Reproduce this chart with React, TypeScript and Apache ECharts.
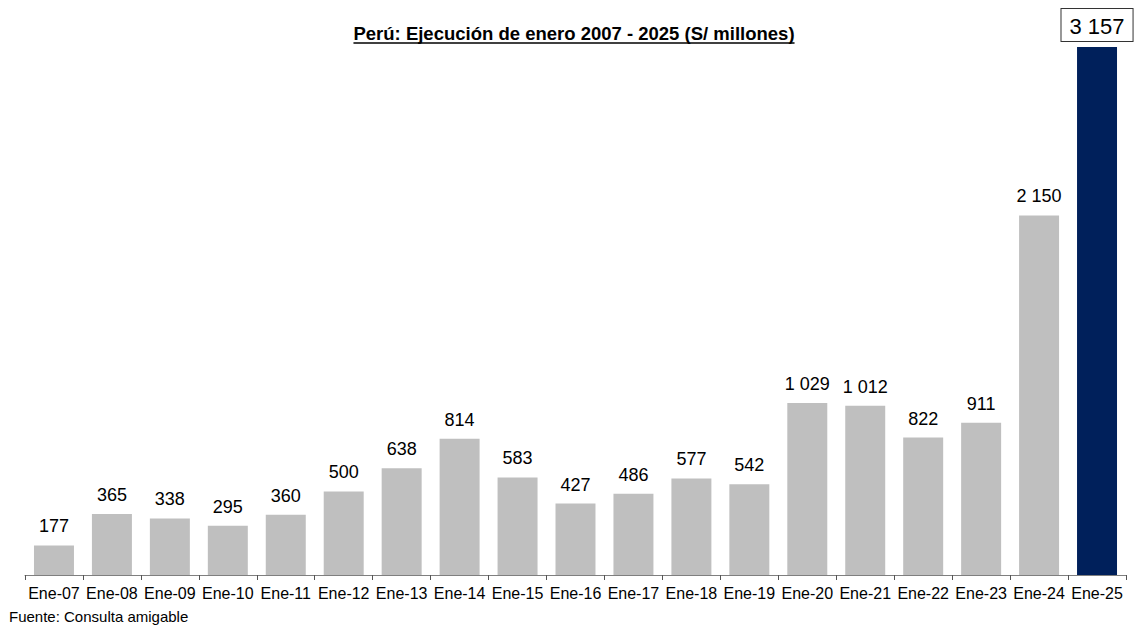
import React, { useEffect, useRef } from "react";
import * as echarts from "echarts";

const categories = ["Ene-07","Ene-08","Ene-09","Ene-10","Ene-11","Ene-12","Ene-13","Ene-14","Ene-15","Ene-16","Ene-17","Ene-18","Ene-19","Ene-20","Ene-21","Ene-22","Ene-23","Ene-24","Ene-25"];
const values = [177,365,338,295,360,500,638,814,583,427,486,577,542,1029,1012,822,911,2150,3157];
const highlightCategory = "Ene-25";
const titleText = "Perú: Ejecución de enero 2007 - 2025 (S/ millones)";
const sourceText = "Fuente: Consulta amigable";

const FONT = "'Liberation Sans', Arial, sans-serif";
const fmt = (v: number) => String(v).replace(/\B(?=(\d{3})+(?!\d))/g, " ");

function measure(text: string, font: string) {
  const c = document.createElement("canvas").getContext("2d");
  if (!c) return text.length * 9.5;
  c.font = font;
  return c.measureText(text).width;
}

export default function App() {
  const ref = useRef<HTMLDivElement>(null);
  useEffect(() => {
    document.body.style.margin = "0";
    if (!ref.current) return;
    const chart = echarts.init(ref.current, null, { renderer: "svg" });
    const titleFont = `bold 18.5px ${FONT}`;
    const titleW = measure(titleText, titleFont);
    const titleCx = 574;
    const data = values.map((v, i) => {
      const hl = categories[i] === highlightCategory;
      return {
        value: v,
        itemStyle: { color: hl ? "#00205B" : "#BFBFBF" },
        label: hl
          ? {
              show: true,
              position: "top",
              distance: 6,
              fontSize: 22,
              color: "#000",
              fontFamily: FONT,
              borderColor: "#333",
              borderWidth: 1,
              backgroundColor: "#fff",
              padding: [6, 8, 4, 8],
              formatter: (p: any) => fmt(p.value),
            }
          : undefined,
      };
    });
    chart.setOption({
      animation: false,
      grid: { left: 25, right: 9, top: 47, bottom: 51 },
      xAxis: {
        type: "category",
        data: categories,
        axisLine: { lineStyle: { color: "#7f7f7f", width: 1 } },
        axisTick: { show: true, length: 5, lineStyle: { color: "#555" } },
        axisLabel: { color: "#000", fontSize: 16, fontFamily: FONT, margin: 10, interval: 0 },
      },
      yAxis: {
        type: "value",
        min: 0,
        max: 3157,
        show: false,
        splitLine: { show: false },
      },
      series: [
        {
          type: "bar",
          data,
          barCategoryGap: "31%",
          label: {
            show: true,
            position: "top",
            distance: 10,
            fontSize: 18,
            color: "#000",
            fontFamily: FONT,
            formatter: (p: any) => fmt(p.value),
          },
        },
      ],
      graphic: [
        {
          type: "text",
          left: titleCx - titleW / 2,
          top: 24,
          style: { text: titleText, font: titleFont, fill: "#000" },
        },
        {
          type: "line",
          shape: { x1: titleCx - titleW / 2, y1: 43, x2: titleCx + titleW / 2, y2: 43 },
          style: { stroke: "#000", lineWidth: 1.3 },
        },
        {
          type: "text",
          left: 9,
          top: 609,
          style: { text: sourceText, font: `15px ${FONT}`, fill: "#000" },
        },
      ],
    });
    return () => chart.dispose();
  }, []);
  return <div ref={ref} style={{ width: 1135, height: 626 }} />;
}
